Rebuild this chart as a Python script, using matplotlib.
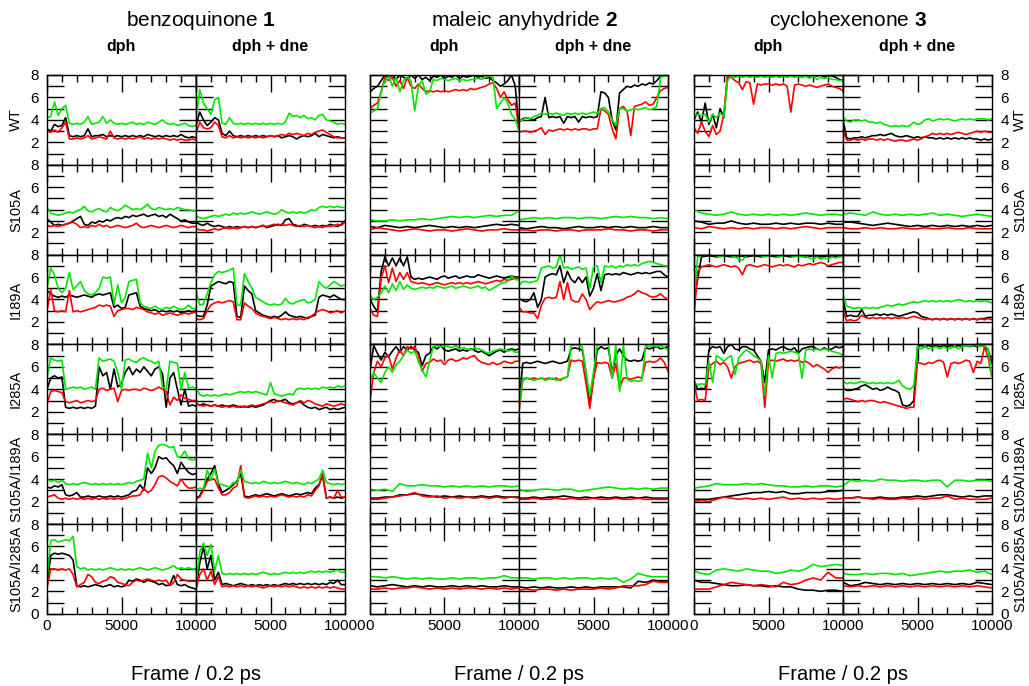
import numpy as np
import matplotlib
matplotlib.use('Agg')
import matplotlib.pyplot as plt

plt.rcParams['font.family'] = ['Liberation Sans', 'DejaVu Sans']
plt.rcParams['mathtext.fontset'] = 'custom'
plt.rcParams['mathtext.rm'] = 'Liberation Sans'
plt.rcParams['mathtext.bf'] = 'Liberation Sans:bold'

# row / column names
mutants = ['WT', 'S105A', 'I189A', 'I285A', 'S105A/I189A', 'S105A/I285A']
compounds = ['benzoquinone $\\mathbf{1}$', 'maleic anyhydride $\\mathbf{2}$', 'cyclohexenone $\\mathbf{3}$']
conditions = ['dph', 'dph + dne']

# distances (read off the picture), frames 0..10000 evenly sampled
# ---------------- benzoquinone, dph ----------------
bq_dph_k = [
    [3.2, 3.0, 3.6, 3.4, 3.5, 4.2, 2.6, 2.5, 2.6, 2.5, 2.6, 3.2, 2.5, 2.6, 2.6, 2.7, 2.5, 2.6, 2.5, 2.6, 2.5, 2.6, 2.5, 2.6, 2.5, 2.6, 2.5, 2.7, 2.6, 2.5, 2.6, 2.5, 2.6, 2.5, 2.6, 2.5, 2.7, 2.5, 2.4, 2.5, 2.4],
    [3.2, 2.9, 2.6, 2.7, 2.6, 2.7, 2.8, 3.0, 3.2, 3.4, 2.7, 2.6, 2.9, 2.8, 3.0, 2.9, 3.1, 3.0, 3.2, 3.3, 3.2, 3.4, 3.3, 3.5, 3.4, 3.5, 3.6, 3.4, 3.5, 3.6, 3.4, 3.5, 3.3, 3.6, 3.4, 3.2, 3.0, 3.1, 2.9, 2.8, 2.8],
    [4.8, 4.5, 4.3, 4.2, 4.3, 4.2, 4.4, 4.3, 4.2, 4.3, 4.4, 4.3, 4.2, 4.4, 4.5, 4.4, 4.5, 4.6, 3.3, 3.5, 3.2, 3.3, 4.4, 4.5, 4.6, 3.4, 3.2, 3.1, 3.0, 3.1, 2.9, 3.0, 2.9, 3.0, 2.9, 3.0, 2.8, 2.9, 3.0, 2.9, 3.0],
    [4.0, 5.0, 5.2, 5.0, 5.1, 2.4, 2.3, 2.4, 2.3, 2.4, 2.3, 2.4, 2.3, 2.5, 6.0, 5.2, 5.5, 4.0, 5.8, 4.2, 4.5, 5.5, 6.0, 5.3, 5.8, 5.5, 6.0, 5.6, 5.2, 5.8, 6.0, 5.4, 2.4, 5.0, 5.5, 4.0, 2.6, 4.0, 2.5, 2.6, 2.5],
    [3.3, 3.2, 3.4, 3.3, 3.5, 2.6, 2.5, 2.6, 2.8, 2.4, 2.4, 2.5, 2.4, 2.4, 2.5, 2.4, 2.4, 2.5, 2.4, 2.5, 2.4, 2.5, 2.6, 2.9, 3.0, 3.5, 3.0, 5.0, 4.5, 5.0, 6.0, 5.8, 5.9, 5.5, 5.2, 4.5, 5.5, 5.0, 4.6, 4.4, 4.5],
    [2.5, 5.2, 5.4, 5.3, 5.4, 5.3, 5.2, 4.8, 2.5, 2.4, 2.5, 2.4, 2.5, 2.6, 2.5, 2.4, 2.5, 2.6, 2.4, 2.5, 2.4, 2.5, 3.0, 2.9, 3.1, 3.0, 2.8, 3.0, 2.9, 2.8, 2.6, 2.7, 2.5, 2.6, 3.4, 2.6, 2.5, 2.6, 2.4, 2.3, 2.2],
]
bq_dph_r = [
    [3.0, 2.9, 3.1, 2.9, 3.3, 3.8, 2.3, 2.3, 2.4, 2.3, 2.4, 2.6, 2.3, 2.4, 2.5, 2.4, 2.3, 3.0, 2.4, 2.3, 2.4, 2.3, 2.4, 2.3, 2.4, 2.5, 2.3, 2.4, 2.3, 2.4, 2.3, 2.4, 2.3, 2.2, 2.3, 2.2, 2.3, 2.2, 2.2, 2.3, 2.2],
    [2.6, 2.5, 2.6, 2.5, 2.6, 2.7, 2.8, 2.9, 2.7, 2.4, 2.5, 2.4, 2.6, 2.5, 2.7, 2.5, 2.6, 2.4, 2.5, 2.6, 2.5, 2.4, 2.5, 2.6, 2.8, 2.5, 2.4, 2.5, 2.6, 2.5, 2.4, 2.5, 2.6, 2.5, 2.4, 2.5, 2.6, 2.5, 2.4, 2.5, 2.5],
    [3.0, 4.9, 3.0, 2.9, 3.0, 2.9, 4.8, 2.9, 3.0, 2.9, 3.0, 3.1, 3.2, 3.3, 3.5, 3.4, 3.5, 3.4, 2.5, 3.0, 3.1, 3.2, 3.2, 3.1, 3.3, 3.2, 3.1, 2.9, 2.8, 2.7, 2.8, 2.6, 2.7, 2.8, 2.7, 2.6, 2.7, 2.8, 2.7, 2.8, 2.9],
    [2.7, 3.8, 3.9, 3.8, 3.7, 2.9, 2.8, 2.9, 3.0, 2.8, 2.9, 3.0, 2.9, 3.0, 4.0, 4.1, 3.9, 4.0, 4.1, 2.9, 3.9, 4.0, 3.9, 4.0, 4.0, 3.9, 4.1, 4.0, 3.9, 4.0, 4.2, 4.0, 3.8, 2.6, 3.3, 3.0, 3.5, 3.2, 3.1, 3.0, 3.0],
    [2.4, 2.5, 2.6, 2.3, 2.2, 2.3, 2.2, 2.3, 2.2, 2.3, 2.2, 2.3, 2.2, 2.3, 2.2, 2.3, 2.2, 2.3, 2.2, 2.3, 2.2, 2.3, 2.4, 2.5, 2.5, 2.6, 3.2, 2.8, 3.0, 3.5, 4.2, 4.3, 4.1, 3.8, 3.6, 3.4, 4.0, 3.5, 3.2, 3.2, 3.3],
    [2.3, 4.0, 4.0, 3.9, 4.0, 3.9, 4.0, 3.5, 2.4, 2.6, 2.8, 3.5, 3.3, 2.8, 2.7, 2.9, 3.0, 3.3, 3.2, 2.8, 2.7, 2.6, 2.5, 2.8, 3.0, 2.9, 3.0, 3.1, 3.0, 2.9, 3.0, 2.9, 3.0, 2.5, 2.8, 3.5, 3.1, 3.0, 2.9, 2.9, 2.9],
]
bq_dph_g = [
    [4.2, 4.3, 5.6, 4.4, 5.0, 5.3, 3.7, 3.6, 3.7, 3.6, 3.8, 4.3, 3.6, 3.7, 3.8, 4.3, 3.7, 4.0, 3.7, 3.6, 3.7, 3.6, 3.7, 3.8, 3.6, 3.7, 3.6, 3.8, 3.7, 3.6, 3.8, 4.0, 3.7, 3.6, 3.7, 3.5, 3.6, 3.7, 3.5, 3.4, 3.5],
    [4.2, 3.7, 3.6, 3.5, 3.6, 3.7, 3.8, 3.7, 3.9, 4.0, 4.3, 3.9, 3.8, 4.0, 4.1, 3.9, 3.8, 4.2, 4.0, 3.9, 4.1, 4.4, 4.2, 4.0, 4.1, 4.0, 4.2, 4.5, 4.1, 4.0, 4.2, 4.1, 4.0, 4.1, 4.0, 4.2, 4.1, 4.0, 4.0, 3.9, 3.9],
    [5.0, 6.8, 6.2, 5.0, 4.6, 5.0, 6.4, 4.9, 5.2, 5.6, 4.8, 4.5, 4.4, 4.6, 5.0, 6.0, 5.9, 6.0, 3.6, 5.3, 3.7, 4.2, 5.6, 5.7, 5.8, 3.7, 3.4, 3.3, 3.2, 3.4, 3.2, 3.1, 3.3, 3.2, 3.4, 3.2, 3.1, 3.2, 3.5, 3.2, 3.2],
    [5.0, 6.8, 6.6, 6.5, 6.6, 4.0, 4.1, 4.2, 4.1, 4.2, 4.0, 4.1, 4.2, 4.0, 6.8, 6.5, 6.6, 6.7, 6.5, 5.5, 4.0, 6.6, 6.7, 6.5, 6.4, 6.7, 6.8, 6.6, 6.5, 6.3, 6.5, 4.2, 4.0, 6.5, 6.4, 6.3, 4.0, 5.5, 4.1, 4.2, 4.1],
    [4.0, 3.8, 3.9, 3.7, 3.9, 3.6, 3.5, 3.6, 3.5, 3.6, 3.7, 3.6, 3.5, 3.6, 3.5, 3.6, 3.5, 3.6, 3.5, 3.6, 3.5, 3.6, 3.7, 3.6, 3.8, 3.9, 4.0, 6.3, 5.0, 6.5, 7.0, 7.1, 7.0, 6.8, 6.9, 6.0, 6.0, 6.5, 5.8, 5.7, 5.8],
    [3.0, 6.5, 6.6, 6.4, 6.5, 6.6, 6.5, 6.9, 4.2, 4.0, 4.1, 3.9, 4.0, 3.9, 4.0, 3.9, 4.0, 4.1, 4.0, 3.9, 4.0, 3.9, 4.0, 3.9, 4.0, 4.1, 4.0, 3.9, 4.0, 4.1, 4.0, 3.9, 4.0, 4.1, 4.3, 4.0, 4.1, 4.0, 4.1, 4.0, 4.0],
]
# ---------------- benzoquinone, dph + dne ----------------
bq_dne_k = [
    [3.5, 4.7, 4.0, 3.5, 3.8, 4.2, 4.0, 2.8, 2.6, 3.0, 2.6, 2.5, 2.6, 2.5, 2.6, 2.5, 2.6, 2.5, 2.6, 2.5, 2.6, 2.5, 2.6, 2.4, 2.5, 2.6, 2.5, 2.3, 2.5, 2.6, 2.5, 2.6, 2.8, 2.5, 2.7, 2.6, 2.5, 2.4, 2.5, 2.4, 2.4],
    [2.9, 2.7, 2.6, 2.8, 2.6, 2.5, 2.6, 2.5, 2.4, 2.5, 2.4, 2.5, 2.4, 2.5, 2.4, 2.5, 2.4, 2.5, 2.6, 2.4, 2.5, 2.6, 2.7, 2.6, 3.1, 3.2, 2.7, 2.6, 2.5, 2.7, 2.6, 2.5, 2.6, 2.5, 2.6, 2.5, 2.7, 2.6, 2.5, 2.7, 3.0],
    [2.6, 2.5, 2.5, 3.5, 5.2, 5.4, 5.6, 5.5, 5.4, 5.6, 5.5, 2.5, 2.4, 5.2, 4.8, 4.5, 3.0, 2.8, 2.6, 2.5, 2.4, 2.5, 2.4, 2.6, 2.9, 2.6, 2.5, 2.4, 2.5, 2.4, 2.3, 2.5, 2.6, 4.2, 4.4, 4.3, 4.2, 4.4, 4.2, 4.0, 4.0],
    [2.7, 2.6, 2.7, 2.6, 2.5, 2.6, 2.5, 2.6, 2.5, 2.5, 2.6, 2.5, 2.4, 2.5, 2.4, 2.5, 2.4, 2.5, 2.6, 2.8, 3.0, 3.1, 2.9, 3.0, 3.1, 2.8, 2.7, 2.8, 2.9, 2.6, 2.4, 2.3, 2.4, 2.2, 2.3, 2.4, 2.2, 2.3, 2.2, 2.3, 2.4],
    [2.3, 2.5, 3.2, 4.0, 4.5, 5.2, 3.6, 2.8, 3.0, 3.2, 3.5, 3.8, 4.5, 2.5, 2.4, 2.5, 2.6, 2.5, 2.6, 2.7, 2.6, 2.5, 2.6, 2.7, 2.6, 2.5, 2.6, 2.7, 2.6, 2.7, 2.8, 2.7, 3.2, 3.5, 4.3, 2.3, 2.4, 2.3, 2.4, 2.3, 2.4],
    [2.2, 4.5, 6.0, 4.0, 5.2, 3.0, 3.7, 2.6, 2.7, 2.6, 2.5, 2.6, 2.7, 2.6, 2.5, 2.6, 2.5, 2.6, 2.5, 2.6, 2.5, 2.6, 2.5, 2.6, 2.7, 2.6, 2.7, 2.6, 2.7, 2.6, 2.7, 2.6, 2.7, 2.6, 2.7, 2.6, 2.8, 2.7, 3.0, 2.6, 2.6],
]
bq_dne_r = [
    [2.8, 3.8, 3.3, 3.2, 3.3, 3.8, 3.5, 2.5, 2.4, 2.6, 2.4, 2.5, 2.4, 2.5, 2.4, 2.5, 2.4, 2.5, 2.4, 2.5, 2.6, 2.5, 2.6, 2.7, 2.6, 2.8, 2.7, 2.8, 2.7, 2.6, 2.8, 2.7, 2.9, 3.0, 3.1, 2.9, 2.7, 2.5, 2.4, 2.4, 2.4],
    [2.3, 2.2, 2.2, 2.1, 2.2, 2.3, 2.2, 2.3, 2.4, 2.3, 2.4, 2.3, 2.4, 2.5, 2.4, 2.5, 2.4, 2.5, 2.6, 2.5, 2.6, 2.7, 2.6, 2.7, 2.6, 2.7, 2.6, 2.5, 2.6, 2.5, 2.6, 2.5, 2.4, 2.5, 2.4, 2.6, 2.5, 2.6, 2.7, 2.6, 2.9],
    [2.3, 2.2, 2.3, 3.0, 3.5, 3.7, 3.8, 3.7, 3.8, 3.9, 3.8, 2.2, 2.2, 3.7, 3.4, 3.2, 2.8, 2.6, 2.5, 2.4, 2.3, 2.4, 2.3, 2.2, 2.3, 2.2, 2.3, 2.2, 2.3, 2.2, 2.4, 2.5, 2.8, 3.0, 3.1, 3.0, 2.8, 2.9, 3.0, 2.8, 3.0],
    [2.7, 2.6, 2.5, 2.6, 2.5, 2.6, 2.5, 2.4, 2.5, 2.4, 2.5, 2.4, 2.5, 2.4, 2.5, 2.6, 2.5, 2.6, 2.7, 2.8, 2.9, 2.8, 3.0, 2.9, 2.8, 2.7, 2.6, 2.8, 3.0, 2.8, 3.0, 2.9, 2.7, 2.6, 2.5, 2.7, 2.6, 2.5, 2.6, 2.7, 2.6],
    [2.2, 2.4, 3.0, 3.8, 4.0, 4.0, 3.2, 2.6, 2.6, 2.8, 3.2, 3.4, 5.2, 2.4, 2.3, 2.4, 2.5, 2.4, 2.5, 2.4, 2.5, 2.4, 2.5, 2.6, 2.5, 2.4, 2.5, 2.4, 2.5, 2.4, 2.6, 2.5, 3.0, 3.4, 4.5, 2.3, 2.4, 2.3, 3.0, 2.4, 2.4],
    [2.2, 3.5, 4.0, 3.0, 3.8, 2.6, 3.3, 2.4, 2.5, 2.4, 2.5, 2.4, 2.5, 2.4, 2.5, 2.4, 2.5, 2.4, 2.3, 2.4, 2.5, 2.4, 2.5, 2.4, 2.5, 2.4, 2.5, 2.4, 2.3, 2.4, 2.3, 2.4, 2.3, 2.4, 2.3, 2.4, 2.3, 2.4, 2.3, 2.2, 2.2],
]
bq_dne_g = [
    [4.0, 6.7, 5.5, 5.0, 4.5, 5.8, 6.0, 3.7, 3.6, 4.2, 3.7, 3.6, 3.7, 3.6, 3.7, 3.6, 3.7, 3.6, 3.7, 3.6, 3.7, 3.6, 3.7, 3.6, 3.8, 4.6, 4.3, 4.4, 4.2, 4.4, 4.1, 4.2, 4.0, 4.4, 4.5, 4.0, 3.9, 3.8, 3.6, 3.7, 3.6],
    [3.4, 3.3, 3.2, 3.3, 3.4, 3.5, 3.4, 3.5, 3.6, 3.5, 3.7, 3.6, 3.7, 3.6, 3.7, 3.8, 3.7, 3.6, 3.7, 3.8, 3.7, 3.6, 3.7, 4.0, 3.8, 3.7, 3.8, 3.7, 3.8, 3.7, 3.8, 4.0, 3.9, 4.2, 4.3, 4.2, 4.3, 4.2, 4.3, 4.2, 4.2],
    [4.8, 3.5, 3.6, 4.5, 5.5, 6.2, 6.5, 6.4, 6.5, 6.6, 6.8, 3.5, 3.5, 6.3, 5.6, 5.0, 4.2, 4.0, 3.8, 3.6, 3.5, 3.6, 3.5, 3.6, 4.1, 3.7, 3.6, 3.8, 3.9, 4.0, 3.7, 3.8, 4.0, 5.6, 5.2, 5.0, 5.3, 5.6, 5.4, 5.2, 5.3],
    [4.2, 3.5, 3.4, 3.5, 3.4, 3.5, 3.4, 3.5, 3.6, 3.5, 3.6, 3.7, 3.8, 3.7, 3.8, 3.7, 3.8, 3.7, 3.6, 3.5, 4.6, 3.6, 3.5, 3.4, 3.5, 3.6, 3.5, 4.0, 4.1, 4.0, 4.1, 4.0, 4.1, 4.0, 4.2, 4.1, 4.2, 4.1, 4.3, 4.2, 4.3],
    [3.0, 3.2, 3.1, 4.8, 3.9, 4.9, 3.6, 3.5, 3.4, 3.3, 3.7, 3.6, 4.8, 3.8, 3.7, 3.6, 3.7, 3.6, 3.8, 3.7, 3.6, 3.7, 3.6, 3.7, 3.8, 3.7, 3.6, 3.7, 3.6, 3.5, 3.7, 3.6, 3.8, 4.0, 4.8, 3.7, 3.6, 3.5, 3.6, 3.5, 3.6],
    [2.5, 5.5, 6.3, 5.2, 6.2, 3.8, 5.2, 3.6, 3.5, 3.6, 3.5, 3.6, 3.5, 3.6, 3.5, 3.6, 3.5, 3.6, 3.7, 3.6, 3.5, 3.6, 3.5, 3.6, 3.7, 3.6, 3.7, 3.6, 3.7, 3.6, 3.7, 3.8, 3.7, 3.8, 3.7, 3.8, 3.7, 3.8, 3.9, 3.7, 3.7],
]
# ---------------- maleic anhydride, dph ----------------
ma_dph_k = [
    [6.5, 6.8, 7.0, 7.5, 8.0, 7.8, 8.0, 7.6, 8.0, 7.8, 7.6, 8.0, 7.7, 8.0, 7.6, 7.8, 7.5, 7.9, 7.8, 8.0, 7.7, 7.9, 7.8, 8.0, 7.7, 7.9, 7.8, 7.9, 8.0, 7.8, 7.9, 7.7, 7.8, 7.5, 7.3, 7.0, 7.2, 7.5, 8.0, 7.0, 3.2],
    [2.5, 2.4, 2.6, 2.5, 2.4, 2.5, 2.4, 2.5, 2.6, 2.5, 2.4, 2.5, 2.4, 2.5, 2.4, 2.5, 2.6, 2.7, 2.6, 2.7, 2.6],
    [4.0, 3.4, 2.9, 6.5, 7.8, 7.0, 7.7, 7.0, 7.7, 7.0, 7.8, 6.0, 5.8, 5.9, 5.8, 5.9, 6.0, 5.9, 5.8, 6.0, 6.1, 5.9, 6.0, 6.1, 5.9, 6.0, 6.1, 6.0, 6.0, 6.2, 6.1, 6.0, 5.9, 6.0, 6.1, 6.0, 5.9, 6.0, 6.1, 6.0, 6.0],
    [5.7, 7.9, 7.2, 6.6, 7.3, 6.9, 7.4, 7.8, 7.3, 7.8, 7.5, 7.8, 7.5, 7.3, 6.1, 7.0, 7.2, 7.8, 7.6, 7.9, 7.5, 7.4, 7.5, 7.6, 7.4, 7.5, 7.4, 7.6, 7.5, 7.3, 7.4, 7.2, 7.0, 7.2, 7.4, 7.5, 7.3, 7.5, 7.6, 7.5, 7.6],
    [2.3, 2.3, 2.4, 2.4, 2.6, 2.6, 2.7, 2.6, 2.5, 2.4, 2.5, 2.4, 2.5, 2.4, 2.4, 2.5, 2.4, 2.5, 2.4, 2.4, 2.4],
    [2.5, 2.4, 2.5, 2.6, 2.5, 2.4, 2.5, 2.4, 2.5, 2.4, 2.4, 2.5, 2.4, 2.5, 2.4, 2.5, 2.4, 2.4, 2.5, 2.4, 2.4],
]
ma_dph_r = [
    [5.0, 5.3, 5.5, 6.5, 7.8, 7.5, 7.8, 7.0, 7.5, 6.8, 7.8, 7.0, 6.8, 7.2, 6.8, 6.5, 6.6, 6.5, 6.6, 6.5, 6.6, 6.5, 6.6, 6.7, 6.6, 6.7, 6.6, 6.8, 6.7, 6.8, 6.9, 7.0, 7.2, 7.3, 6.8, 6.0, 6.5, 5.8, 5.3, 5.5, 3.0],
    [2.2, 2.4, 2.3, 2.2, 2.1, 2.2, 2.3, 2.2, 2.1, 2.2, 2.2, 2.1, 2.2, 2.3, 2.2, 2.1, 2.2, 2.2, 2.3, 2.2, 2.2],
    [3.2, 2.6, 2.5, 5.9, 7.0, 5.5, 6.8, 5.6, 6.4, 5.8, 6.4, 5.6, 5.5, 5.4, 5.5, 5.4, 5.3, 5.4, 5.5, 5.4, 5.3, 5.4, 5.5, 5.4, 5.5, 5.4, 5.5, 5.4, 5.5, 5.6, 5.5, 5.4, 5.5, 5.6, 5.7, 5.6, 5.8, 5.7, 5.8, 5.9, 5.9],
    [3.0, 5.5, 6.5, 6.0, 6.8, 7.0, 5.8, 6.8, 7.5, 7.0, 7.8, 7.6, 7.8, 7.0, 5.6, 6.3, 6.4, 6.7, 6.5, 6.6, 6.2, 6.6, 6.7, 6.5, 6.6, 6.8, 6.7, 6.9, 7.0, 6.6, 6.4, 6.3, 6.2, 6.4, 6.2, 6.3, 6.5, 6.4, 6.3, 6.5, 6.5],
    [2.2, 2.2, 2.3, 2.4, 2.5, 2.6, 2.8, 2.5, 2.4, 2.5, 2.3, 2.4, 2.3, 2.4, 2.3, 2.4, 2.3, 2.4, 2.3, 2.4, 2.3],
    [2.2, 2.2, 2.3, 2.2, 2.3, 2.3, 2.4, 2.3, 2.2, 2.3, 2.2, 2.3, 2.2, 2.3, 2.3, 2.2, 2.3, 2.2, 2.3, 2.2, 2.3],
]
ma_dph_g = [
    [4.6, 4.8, 5.0, 6.5, 7.5, 8.0, 7.0, 7.8, 6.5, 7.5, 7.8, 7.5, 4.8, 7.0, 7.5, 6.3, 6.5, 7.6, 7.5, 7.7, 7.6, 7.5, 7.6, 7.7, 7.5, 7.6, 7.5, 7.6, 7.6, 7.7, 7.6, 7.8, 7.9, 7.8, 5.0, 5.5, 6.0, 5.5, 4.5, 4.0, 3.0],
    [3.1, 3.0, 3.0, 3.1, 3.0, 3.1, 3.1, 3.2, 3.1, 3.2, 3.3, 3.4, 3.3, 3.4, 3.3, 3.4, 3.5, 3.4, 3.5, 3.5, 3.9],
    [4.4, 4.0, 4.2, 4.6, 5.2, 4.6, 5.4, 4.8, 5.6, 4.9, 5.3, 5.0, 4.9, 5.0, 5.1, 5.0, 5.1, 5.0, 5.2, 5.1, 5.0, 5.1, 5.2, 5.0, 5.1, 5.2, 5.1, 5.0, 5.1, 5.2, 5.0, 5.1, 4.8, 5.0, 5.2, 5.4, 5.5, 5.6, 6.1, 5.8, 5.7],
    [4.8, 5.5, 5.0, 4.6, 5.5, 6.0, 5.5, 6.2, 6.5, 7.0, 7.5, 7.2, 7.4, 6.5, 5.7, 5.1, 6.5, 7.8, 7.9, 7.8, 7.9, 7.8, 7.7, 7.9, 7.6, 7.7, 7.6, 7.5, 7.7, 7.6, 7.5, 7.3, 7.2, 7.4, 7.5, 7.6, 7.5, 7.4, 7.5, 7.3, 7.3],
    [3.1, 3.0, 3.1, 2.9, 3.6, 3.4, 3.4, 3.5, 3.4, 3.4, 3.3, 3.4, 3.3, 3.4, 3.3, 3.4, 3.3, 3.4, 3.4, 3.3, 3.4],
    [3.3, 3.3, 3.2, 3.3, 3.2, 3.1, 3.2, 3.1, 3.2, 3.1, 3.1, 3.2, 3.1, 3.2, 3.2, 3.1, 3.2, 3.2, 3.4, 3.2, 3.2],
]
# ---------------- maleic anhydride, dph + dne ----------------
ma_dne_k = [
    [3.8, 4.1, 4.2, 4.1, 4.0, 4.2, 4.3, 6.0, 4.2, 4.3, 4.2, 4.3, 3.7, 4.3, 4.2, 4.3, 3.8, 4.3, 4.2, 4.3, 4.2, 4.3, 6.5, 6.4, 6.0, 4.0, 3.1, 6.4, 6.7, 7.0, 6.9, 7.1, 7.0, 7.2, 7.1, 7.3, 7.2, 7.5, 7.9, 8.0, 8.0],
    [2.4, 2.3, 2.4, 2.5, 2.4, 2.4, 2.3, 2.4, 2.5, 2.4, 2.4, 2.5, 2.4, 2.5, 2.4, 2.5, 2.4, 2.4, 2.5, 2.4, 2.4],
    [4.1, 3.9, 3.8, 4.0, 4.6, 3.3, 4.0, 6.0, 6.2, 6.3, 6.2, 7.0, 5.5, 6.5, 5.8, 5.5, 6.0, 5.5, 6.0, 4.3, 5.0, 6.3, 4.8, 6.2, 6.3, 6.2, 6.3, 6.2, 6.4, 6.3, 6.2, 6.3, 6.4, 6.3, 6.4, 6.3, 6.4, 6.5, 6.5, 6.2, 6.0],
    [2.5, 6.3, 6.4, 6.3, 6.4, 6.5, 6.4, 6.3, 6.4, 6.5, 6.4, 6.3, 6.4, 6.5, 7.6, 7.7, 7.6, 7.5, 5.5, 2.6, 5.0, 7.5, 7.8, 7.6, 7.7, 5.5, 7.0, 7.6, 7.0, 6.6, 6.5, 6.6, 6.5, 6.6, 7.7, 7.6, 7.7, 7.8, 7.6, 7.7, 7.8],
    [2.3, 2.3, 2.4, 2.3, 2.4, 2.4, 2.5, 2.4, 2.3, 2.4, 2.3, 2.4, 2.3, 2.4, 2.3, 2.4, 2.3, 2.4, 2.3, 2.3, 2.3],
    [2.4, 2.3, 2.4, 2.3, 2.4, 2.3, 2.3, 2.4, 2.3, 2.4, 2.3, 2.4, 2.4, 2.4, 2.4, 2.3, 2.9, 2.8, 3.0, 2.9, 2.8],
]
ma_dne_r = [
    [2.9, 3.0, 3.0, 2.9, 3.0, 3.1, 3.3, 2.7, 3.1, 3.0, 3.1, 3.2, 3.1, 3.2, 3.1, 3.2, 3.1, 3.2, 3.2, 3.1, 3.2, 3.2, 5.0, 4.8, 4.5, 3.2, 2.3, 5.0, 5.2, 4.8, 2.6, 5.2, 5.3, 5.4, 5.6, 5.3, 5.4, 6.0, 6.6, 6.8, 6.9],
    [2.2, 2.2, 2.1, 2.2, 2.2, 2.1, 2.2, 2.2, 2.1, 2.2, 2.2, 2.2, 2.3, 2.2, 2.2, 2.1, 2.2, 2.2, 2.1, 2.2, 2.2],
    [3.3, 2.9, 2.9, 2.8, 2.8, 2.3, 3.5, 4.1, 4.2, 4.1, 4.2, 5.6, 4.0, 5.5, 4.0, 3.8, 3.8, 4.5, 4.0, 3.1, 3.5, 3.8, 3.7, 3.8, 3.9, 3.8, 3.8, 3.9, 4.0, 4.2, 4.3, 4.5, 4.8, 4.6, 4.5, 4.3, 4.2, 4.3, 4.5, 4.2, 4.0],
    [2.0, 4.8, 5.0, 4.9, 5.0, 4.9, 5.0, 4.9, 5.0, 4.9, 5.0, 4.8, 5.0, 5.1, 6.6, 6.5, 6.6, 6.5, 4.5, 2.3, 5.0, 6.4, 6.3, 6.4, 6.3, 5.0, 6.3, 4.1, 5.0, 5.0, 4.9, 5.0, 5.1, 5.0, 6.4, 6.5, 6.4, 6.5, 6.8, 6.4, 5.6],
    [2.2, 2.2, 2.3, 2.2, 2.2, 2.3, 2.2, 2.3, 2.2, 2.2, 2.3, 2.2, 2.2, 2.3, 2.2, 2.2, 2.3, 2.2, 2.2, 2.2, 2.2],
    [2.1, 2.2, 2.1, 2.2, 2.2, 2.1, 2.2, 2.1, 2.2, 2.2, 2.2, 2.3, 2.2, 2.3, 2.5, 2.5, 2.5, 2.6, 2.9, 2.8, 2.8],
]
ma_dne_g = [
    [3.9, 4.0, 4.2, 4.1, 4.3, 4.4, 4.6, 4.5, 4.6, 4.5, 4.6, 4.5, 4.4, 4.6, 4.5, 4.6, 4.5, 4.6, 4.5, 4.6, 4.7, 4.6, 5.0, 5.1, 4.7, 4.0, 3.5, 5.0, 5.0, 4.8, 4.9, 5.0, 4.9, 5.0, 5.1, 4.9, 5.0, 5.2, 7.8, 7.9, 8.0],
    [3.1, 3.2, 3.3, 3.2, 3.3, 3.2, 3.3, 3.3, 3.2, 3.3, 3.3, 3.2, 3.3, 3.4, 3.3, 3.4, 3.3, 3.3, 3.2, 3.3, 3.2],
    [5.3, 5.6, 5.6, 5.5, 5.6, 5.7, 6.8, 6.9, 7.0, 6.8, 6.9, 8.0, 6.8, 6.9, 6.7, 6.8, 6.9, 6.7, 6.8, 5.0, 6.9, 7.0, 5.5, 7.0, 6.9, 7.0, 6.8, 7.0, 6.9, 7.1, 7.0, 7.1, 7.0, 7.2, 7.3, 7.4, 7.3, 7.2, 7.1, 7.0, 7.0],
    [2.5, 4.9, 5.0, 4.9, 4.8, 4.9, 5.0, 4.8, 4.9, 5.0, 4.8, 4.9, 5.0, 5.1, 7.9, 8.0, 7.9, 7.8, 5.5, 3.4, 5.5, 7.9, 8.0, 7.9, 8.0, 5.0, 7.9, 3.8, 7.9, 4.9, 4.7, 4.8, 4.7, 4.8, 7.9, 7.8, 7.9, 7.8, 7.9, 7.7, 7.5],
    [3.1, 2.9, 3.0, 3.1, 3.1, 3.0, 3.1, 3.1, 2.9, 3.0, 3.1, 3.2, 3.3, 3.2, 3.1, 3.2, 3.1, 3.2, 3.1, 3.2, 3.2],
    [3.2, 3.2, 3.1, 3.2, 3.2, 3.1, 3.2, 3.1, 3.2, 3.2, 3.1, 3.2, 3.1, 3.2, 2.8, 3.1, 3.6, 3.4, 3.3, 3.3, 3.3],
]
# ---------------- cyclohexenone, dph ----------------
cy_dph_k = [
    [4.0, 4.7, 3.8, 5.5, 3.6, 4.5, 3.3, 5.0, 4.2, 7.8, 8.0, 7.9, 8.0, 7.9, 8.0, 7.8, 8.0, 7.9, 8.0, 7.9, 8.0, 7.9, 8.0, 7.8, 8.0, 7.9, 8.0, 7.9, 8.0, 7.8, 8.0, 7.9, 8.0, 7.9, 8.0, 7.8, 8.0, 7.9, 7.8, 7.6, 7.5],
    [3.0, 2.9, 2.7, 2.8, 2.8, 3.0, 2.8, 2.7, 2.8, 2.7, 2.7, 2.8, 2.7, 2.8, 2.7, 2.8, 2.8, 2.7, 2.8, 2.7, 2.7],
    [3.9, 7.8, 7.9, 7.8, 7.9, 7.8, 7.9, 7.8, 7.9, 7.8, 7.9, 7.8, 7.9, 7.8, 7.9, 7.8, 7.9, 7.8, 7.9, 7.8, 7.9],
    [4.8, 4.0, 4.1, 4.0, 7.5, 7.8, 7.7, 7.8, 7.2, 7.8, 8.0, 7.6, 7.5, 7.8, 7.8, 7.6, 7.5, 7.0, 6.5, 4.6, 7.5, 7.6, 7.5, 7.7, 7.8, 7.6, 7.5, 7.7, 7.2, 7.6, 7.7, 7.8, 7.8, 7.6, 7.5, 7.7, 7.5, 7.6, 7.8, 7.7, 7.8],
    [2.2, 2.2, 2.2, 2.3, 2.4, 2.5, 2.6, 2.7, 2.8, 2.8, 2.9, 2.8, 2.9, 2.7, 2.7, 2.8, 2.8, 2.8, 2.9, 2.9, 3.0],
    [3.0, 2.8, 2.8, 2.7, 2.6, 2.5, 2.5, 2.6, 2.5, 2.5, 2.4, 2.5, 2.4, 2.4, 2.2, 2.1, 2.1, 2.0, 2.1, 2.1, 2.0],
]
cy_dph_r = [
    [3.3, 2.8, 3.8, 3.0, 2.5, 3.5, 2.7, 3.0, 4.5, 8.0, 7.8, 7.5, 7.3, 6.7, 7.4, 7.3, 5.4, 7.2, 7.1, 7.2, 7.2, 7.1, 7.2, 7.1, 7.2, 7.0, 4.7, 7.1, 7.2, 7.1, 7.0, 7.1, 7.0, 6.9, 7.0, 7.1, 7.2, 7.0, 6.9, 6.8, 6.6],
    [2.4, 2.3, 2.5, 2.4, 2.3, 2.4, 2.3, 2.4, 2.3, 2.4, 2.4, 2.3, 2.4, 2.3, 2.4, 2.5, 2.4, 2.3, 2.4, 2.4, 2.4],
    [2.5, 6.5, 6.9, 7.0, 7.1, 7.0, 6.9, 7.0, 7.1, 7.0, 6.9, 7.0, 6.8, 6.2, 7.0, 7.1, 7.0, 6.9, 7.0, 7.1, 7.0, 6.9, 7.0, 7.1, 7.0, 7.1, 7.0, 6.9, 7.1, 7.0, 7.1, 7.2, 7.1, 7.2, 7.3, 7.2, 7.0, 7.1, 7.2, 7.3, 7.3],
    [4.5, 3.0, 3.1, 3.0, 6.0, 6.3, 6.5, 6.2, 6.4, 6.0, 5.0, 6.0, 6.3, 6.4, 6.5, 6.6, 6.4, 6.5, 6.3, 2.4, 6.5, 6.6, 6.5, 6.6, 6.7, 6.5, 6.6, 6.5, 6.6, 6.4, 6.5, 6.3, 6.0, 6.2, 6.0, 5.8, 5.5, 5.8, 6.0, 5.9, 6.0],
    [2.0, 2.1, 2.0, 2.2, 2.4, 2.3, 2.2, 2.3, 2.2, 2.3, 2.2, 2.3, 2.4, 2.2, 2.3, 2.2, 2.3, 2.2, 2.3, 2.2, 2.3],
    [2.2, 2.2, 2.2, 2.4, 2.6, 2.8, 2.7, 2.6, 2.5, 2.6, 2.5, 2.4, 2.8, 2.6, 2.7, 3.0, 3.2, 3.0, 3.7, 3.2, 3.2],
]
cy_dph_g = [
    [4.3, 4.5, 4.4, 4.5, 3.8, 4.5, 4.2, 4.6, 4.3, 7.5, 7.9, 7.8, 7.9, 7.8, 7.9, 7.8, 7.9, 7.8, 7.9, 7.8, 7.9, 7.8, 7.9, 7.8, 7.9, 7.8, 7.9, 7.8, 7.9, 7.8, 7.9, 7.7, 7.9, 7.6, 7.8, 7.7, 7.8, 7.6, 7.6, 7.5, 7.5],
    [4.0, 3.7, 3.6, 3.5, 3.6, 3.8, 3.6, 3.5, 3.6, 3.5, 3.6, 3.5, 3.6, 3.5, 3.6, 3.7, 3.6, 3.5, 3.6, 3.6, 3.5],
    [4.5, 7.8, 7.9, 8.0, 7.9, 8.0, 7.9, 7.8, 7.9, 8.0, 7.9, 7.8, 7.6, 7.5, 7.9, 8.0, 7.9, 8.0, 7.9, 7.8, 7.9, 8.0, 7.9, 7.8, 7.9, 8.0, 7.9, 7.8, 7.9, 7.8, 7.9, 7.7, 7.6, 7.8, 7.6, 7.7, 7.6, 7.8, 7.7, 7.8, 7.8],
    [4.6, 4.4, 4.5, 4.4, 6.5, 4.6, 7.0, 6.8, 6.5, 6.8, 7.0, 5.3, 6.8, 7.2, 7.5, 7.3, 7.0, 6.8, 6.5, 3.5, 7.0, 5.0, 7.2, 7.3, 7.2, 7.3, 7.4, 7.3, 7.2, 5.0, 7.5, 7.6, 7.5, 7.6, 7.5, 7.6, 7.5, 7.4, 7.3, 7.2, 7.0],
    [3.2, 3.3, 3.4, 3.6, 3.5, 3.5, 3.5, 3.6, 3.5, 3.6, 3.5, 3.4, 3.4, 3.3, 3.3, 3.4, 3.3, 3.4, 3.4, 3.3, 3.4],
    [3.8, 3.6, 3.5, 3.9, 4.0, 3.9, 3.8, 4.0, 3.9, 3.8, 3.8, 3.6, 3.7, 3.9, 3.8, 4.0, 4.4, 4.2, 4.3, 4.4, 4.3],
]
# ---------------- cyclohexenone, dph + dne ----------------
cy_dne_k = [
    [4.0, 2.4, 2.3, 2.4, 2.4, 2.5, 2.4, 2.5, 2.6, 2.6, 2.7, 2.6, 2.7, 2.8, 2.6, 2.5, 2.5, 2.6, 2.5, 2.4, 2.5, 2.4, 2.5, 2.4, 2.4, 2.3, 2.4, 2.3, 2.4, 2.3, 2.4, 2.3, 2.4, 2.3, 2.4, 2.3, 2.3, 2.2, 2.3, 2.2, 2.3],
    [2.9, 2.9, 2.8, 2.7, 2.6, 2.7, 2.8, 2.7, 2.6, 2.5, 2.6, 2.5, 2.6, 2.5, 2.6, 2.5, 2.6, 2.5, 2.6, 2.5, 2.6],
    [4.0, 2.5, 2.6, 2.5, 2.5, 3.1, 2.5, 2.6, 2.6, 2.7, 2.6, 2.7, 2.6, 2.7, 2.6, 2.5, 2.6, 2.7, 2.8, 2.9, 2.8, 2.5, 2.4, 2.3, 2.2, 2.3, 2.2, 2.3, 2.2, 2.3, 2.2, 2.3, 2.2, 2.3, 2.2, 2.3, 2.2, 2.3, 2.3, 2.4, 2.4],
    [4.1, 3.9, 3.9, 4.0, 4.1, 4.3, 4.4, 4.2, 4.0, 4.1, 3.9, 4.0, 4.2, 4.0, 3.9, 3.7, 2.6, 2.5, 2.6, 3.0, 7.8, 7.9, 7.8, 7.9, 7.8, 7.9, 7.8, 7.9, 7.8, 7.9, 7.8, 7.9, 7.8, 7.9, 7.8, 7.9, 7.8, 7.9, 7.8, 7.5, 6.3],
    [2.3, 2.3, 2.4, 2.3, 2.3, 2.4, 2.3, 2.3, 2.4, 2.4, 2.5, 2.4, 2.5, 2.6, 2.6, 2.5, 2.4, 2.5, 2.4, 2.5, 2.5],
    [2.8, 2.5, 2.6, 2.8, 2.7, 2.6, 2.7, 2.6, 2.7, 2.6, 2.7, 2.6, 2.7, 2.6, 2.7, 2.6, 2.7, 2.6, 2.8, 2.7, 2.6],
]
cy_dne_r = [
    [3.0, 2.2, 2.2, 2.3, 2.2, 2.3, 2.2, 2.3, 2.3, 2.2, 2.3, 2.2, 2.3, 2.2, 2.1, 2.2, 2.2, 2.1, 2.2, 2.3, 2.2, 2.3, 2.5, 2.6, 2.8, 2.7, 2.8, 2.7, 2.8, 2.7, 2.8, 2.9, 2.8, 2.7, 2.8, 2.9, 3.0, 2.9, 3.0, 2.9, 2.9],
    [2.4, 2.3, 2.3, 2.4, 2.3, 2.4, 2.3, 2.3, 2.4, 2.3, 2.3, 2.4, 2.3, 2.3, 2.4, 2.3, 2.3, 2.4, 2.3, 2.3, 2.3],
    [3.0, 2.1, 2.2, 2.1, 2.2, 2.6, 2.4, 2.3, 2.4, 2.3, 2.4, 2.3, 2.4, 2.3, 2.4, 2.3, 2.4, 2.3, 2.4, 2.5, 2.4, 2.3, 2.2, 2.3, 2.2, 2.3, 2.2, 2.3, 2.2, 2.3, 2.2, 2.3, 2.2, 2.3, 2.2, 2.3, 2.2, 2.3, 2.2, 2.3, 2.2],
    [3.1, 3.2, 3.1, 3.0, 2.9, 3.0, 2.9, 3.0, 3.0, 2.9, 2.8, 2.9, 2.8, 2.7, 2.6, 2.5, 2.4, 2.3, 2.4, 2.4, 6.4, 6.3, 6.2, 6.4, 6.3, 6.5, 6.6, 6.4, 5.1, 6.3, 6.4, 6.3, 6.4, 6.6, 6.5, 5.5, 6.5, 6.3, 7.8, 6.8, 5.0],
    [2.3, 2.3, 2.4, 2.3, 2.2, 2.3, 2.2, 2.2, 2.3, 2.2, 2.3, 2.2, 2.3, 2.3, 2.5, 2.2, 2.3, 2.2, 2.2, 2.2, 2.3],
    [2.5, 2.4, 2.5, 2.4, 2.5, 2.4, 2.5, 2.4, 2.5, 2.4, 2.5, 2.4, 2.5, 2.4, 2.5, 2.4, 2.5, 2.4, 2.5, 2.4, 2.3],
]
cy_dne_g = [
    [4.3, 3.9, 3.8, 4.0, 4.0, 3.9, 4.0, 3.8, 3.8, 3.7, 3.8, 3.6, 3.5, 3.4, 3.5, 3.4, 3.5, 3.4, 3.5, 3.8, 3.6, 3.7, 4.0, 4.1, 3.9, 4.0, 4.1, 4.0, 4.1, 4.0, 3.9, 4.0, 4.1, 4.0, 4.1, 4.0, 4.1, 4.1, 4.1, 4.0, 4.1],
    [3.6, 3.7, 3.6, 3.5, 3.8, 3.6, 3.5, 3.6, 3.5, 3.6, 3.5, 3.6, 3.7, 3.5, 3.6, 3.5, 3.4, 3.5, 3.6, 3.5, 3.4],
    [4.4, 3.4, 3.3, 3.2, 3.3, 3.2, 3.3, 3.2, 3.3, 3.2, 3.3, 3.4, 3.5, 3.4, 3.5, 3.6, 3.5, 3.6, 3.7, 3.8, 3.7, 3.8, 3.9, 3.8, 3.9, 3.8, 3.9, 3.8, 3.9, 3.8, 3.9, 4.0, 3.9, 3.8, 3.9, 3.8, 3.9, 3.8, 3.9, 3.8, 3.7],
    [4.7, 4.5, 4.6, 4.5, 4.6, 4.7, 4.6, 4.5, 4.6, 4.5, 4.6, 4.5, 4.6, 4.5, 4.6, 4.8, 4.3, 4.1, 4.0, 4.3, 7.8, 7.6, 7.8, 7.6, 7.7, 7.8, 7.6, 7.8, 7.6, 7.7, 7.8, 7.6, 7.8, 7.9, 7.8, 8.0, 7.9, 7.8, 7.9, 7.6, 5.0],
    [3.4, 3.9, 3.8, 3.9, 3.8, 4.0, 3.9, 3.9, 3.8, 3.9, 3.9, 3.8, 3.9, 3.9, 3.3, 3.9, 3.9, 3.8, 3.9, 3.9, 3.8],
    [3.6, 3.5, 3.5, 3.6, 3.5, 3.6, 3.6, 3.5, 3.6, 3.4, 3.5, 3.6, 3.7, 3.8, 3.7, 3.8, 3.8, 3.9, 3.7, 3.8, 3.5],
]

panels = [
    [(bq_dph_k, bq_dph_r, bq_dph_g), (bq_dne_k, bq_dne_r, bq_dne_g)],
    [(ma_dph_k, ma_dph_r, ma_dph_g), (ma_dne_k, ma_dne_r, ma_dne_g)],
    [(cy_dph_k, cy_dph_r, cy_dph_g), (cy_dne_k, cy_dne_r, cy_dne_g)],
]
line_colors = ['#000000', '#ff0000', '#00e600']

W, H = 1029, 686
fig = plt.figure(figsize=(W / 100, H / 100), dpi=100)

block_left = [47, 370, 694]
pw = 149
top = 75
rh = 89.8

for b in range(3):
    for c in range(2):
        for r in range(6):
            left = block_left[b] + c * pw
            y0 = top + r * rh
            ax = fig.add_axes([left / W, 1 - (y0 + rh) / H, pw / W, rh / H])
            for series, col in zip(panels[b][c], line_colors):
                y = np.array(series[r])
                x = np.linspace(0, 10000, len(y))
                ax.plot(x, y, color=col, lw=1.2)
            ax.set_xlim(0, 10000)
            ax.set_ylim(0, 8)
            ax.set_xticks([0, 5000, 10000])
            ax.set_xticks(range(1000, 10000, 1000), minor=True)
            if c == 0:
                ax.set_xticklabels(['0', '5000', '10000'])
            else:
                ax.set_xticklabels(['', '5000', '10000'])
            ax.set_yticks(range(0, 9))
            ylabs = ['', '', '2', '', '4', '', '6', '', '8']
            if r == 5:
                ylabs[0] = '0'
            ax.set_yticklabels(ylabs)
            ax.tick_params(which='both', direction='in', top=True, right=True, width=1,
                           labelsize=11, pad=6,
                           labelleft=(b == 0 and c == 0),
                           labelright=(b == 2 and c == 1),
                           labelbottom=(r == 5))
            ax.tick_params(axis='x', which='both', pad=4)
            ax.tick_params(which='major', length=12)
            ax.tick_params(which='minor', length=5)
            for s in ax.spines.values():
                s.set_linewidth(1.0)

    cx = (block_left[b] + pw) / W
    fig.text(cx + 5 / W, 1 - 20 / H, compounds[b], ha='center', va='center', fontsize=15)
    fig.text(cx, 1 - 675 / H, 'Frame / 0.2 ps', ha='center', va='center', fontsize=14.5)
    for c in range(2):
        fig.text((block_left[b] + c * pw + pw / 2) / W, 1 - 47 / H, conditions[c],
                 ha='center', va='center', fontsize=11.5, fontweight='bold')

for r in range(6):
    yc = 1 - (top + r * rh + rh / 2) / H
    fig.text(16 / W, yc, mutants[r], rotation=90, ha='center', va='center', fontsize=10.5)
    fig.text(1020 / W, yc, mutants[r], rotation=90, ha='center', va='center', fontsize=10.5)

fig.savefig('out.png', dpi=100)
